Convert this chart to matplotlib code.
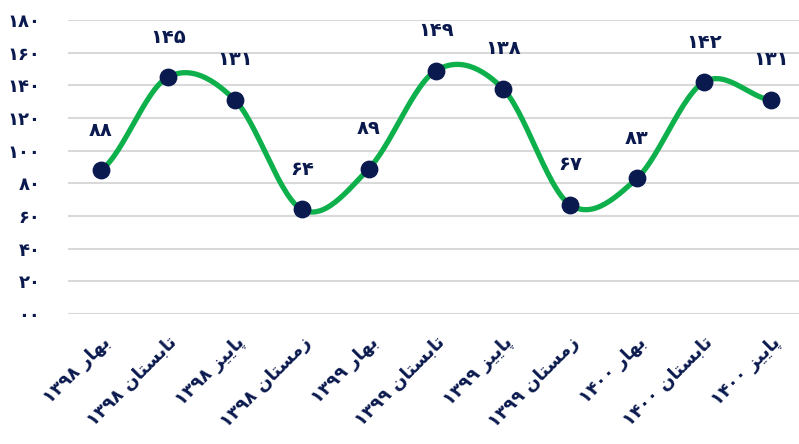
import matplotlib

matplotlib.use("Agg")
import matplotlib.pyplot as plt
import numpy as np

# seasons (Persian) and years
seasons = ["بهار", "تابستان", "پاییز", "زمستان",
           "بهار", "تابستان", "پاییز", "زمستان",
           "بهار", "تابستان", "پاییز"]
years = ["۱۳۹۸", "۱۳۹۸", "۱۳۹۸", "۱۳۹۸",
         "۱۳۹۹", "۱۳۹۹", "۱۳۹۹", "۱۳۹۹",
         "۱۴۰۰", "۱۴۰۰", "۱۴۰۰"]
values = [88, 145, 131, 64, 89, 149, 138, 67, 83, 142, 131]
yticks = [0, 20, 40, 60, 80, 100, 120, 140, 160, 180]

NAVY = "#0b1a4e"
GREEN = "#0db04b"

# Arabic presentation forms: isolated, final, initial, medial
FORMS = {
    "ب": "\uFE8F\uFE90\uFE91\uFE92",
    "ه": "\uFEE9\uFEEA\uFEEB\uFEEC",
    "ت": "\uFE95\uFE96\uFE97\uFE98",
    "س": "\uFEB1\uFEB2\uFEB3\uFEB4",
    "ن": "\uFEE5\uFEE6\uFEE7\uFEE8",
    "پ": "\uFB56\uFB57\uFB58\uFB59",
    "ی": "\uFBFC\uFBFD\uFBFE\uFBFF",
    "م": "\uFEE1\uFEE2\uFEE3\uFEE4",
    "ا": "\uFE8D\uFE8E",
    "ر": "\uFEAD\uFEAE",
    "ز": "\uFEAF\uFEB0",
}


def shape(word):
    """Join letters and return them in visual (left-to-right) order."""
    out = []
    n = len(word)
    for i, ch in enumerate(word):
        f = FORMS[ch]
        prev_joins = i > 0 and len(FORMS[word[i - 1]]) == 4
        next_joins = i < n - 1 and len(f) == 4
        if prev_joins and next_joins:
            out.append(f[3])
        elif prev_joins:
            out.append(f[1])
        elif next_joins:
            out.append(f[2])
        else:
            out.append(f[0])
    return "".join(reversed(out))


def fa_num(v):
    return "".join("۰۱۲۳۴۵۶۷۸۹"[int(c)] for c in str(v))


def spline(y, steps=30):
    # Catmull-Rom curve through the points (drawing only)
    y = np.asarray(y, float)
    n = len(y)
    m = np.zeros(n)
    m[1:-1] = (y[2:] - y[:-2]) / 2
    m[0] = (y[1] - y[0]) / 2
    m[-1] = (y[-1] - y[-2]) / 2
    xs, ys = [], []
    for i in range(n - 1):
        t = np.linspace(0, 1, steps, endpoint=False)
        h00 = 2 * t**3 - 3 * t**2 + 1
        h10 = t**3 - 2 * t**2 + t
        h01 = -2 * t**3 + 3 * t**2
        h11 = t**3 - t**2
        xs.append(i + t)
        ys.append(h00 * y[i] + h10 * m[i] + h01 * y[i + 1] + h11 * m[i + 1])
    xs.append([n - 1])
    ys.append([y[-1]])
    return np.concatenate(xs), np.concatenate(ys)


plt.rcParams["font.family"] = ["DejaVu Sans"]
plt.rcParams["font.weight"] = "bold"

fig = plt.figure(figsize=(7.99, 4.44), dpi=100)
W, H = 799, 444
ax = fig.add_axes([68 / W, (H - 314) / H, (799 - 68) / W, (314 - 20) / H])

x = np.arange(len(values))
sx, sy = spline(values)
ax.plot(sx, sy, color=GREEN, lw=3.8, solid_capstyle="round", zorder=3)
ax.scatter(x, values, s=140, color=NAVY, zorder=4)

for xi, v in zip(x, values):
    ax.annotate(fa_num(v), (xi, v), xytext=(0, 22), textcoords="offset points",
                ha="center", va="bottom", color=NAVY, fontsize=14,
                fontweight="bold")

ax.set_xlim(-0.49, 10.42)
ax.set_ylim(0, 180)
ax.set_yticks(yticks)
ax.set_yticklabels(["۰۰" if t == 0 else fa_num(t) for t in yticks],
                   color=NAVY, fontsize=13, fontweight="bold")
ax.set_xticks(x)
ax.set_xticklabels([yr + " " + shape(s) for s, yr in zip(seasons, years)],
                   rotation=45, ha="right", rotation_mode="anchor",
                   color=NAVY, fontsize=13, fontweight="bold")
ax.tick_params(axis="both", length=0)
ax.tick_params(axis="y", pad=20)
ax.tick_params(axis="x", pad=14)
ax.grid(axis="y", color="#d9d9d9", lw=1.5)
ax.set_axisbelow(True)
for sp in ax.spines.values():
    sp.set_visible(False)

fig.savefig("out.png", dpi=100)
